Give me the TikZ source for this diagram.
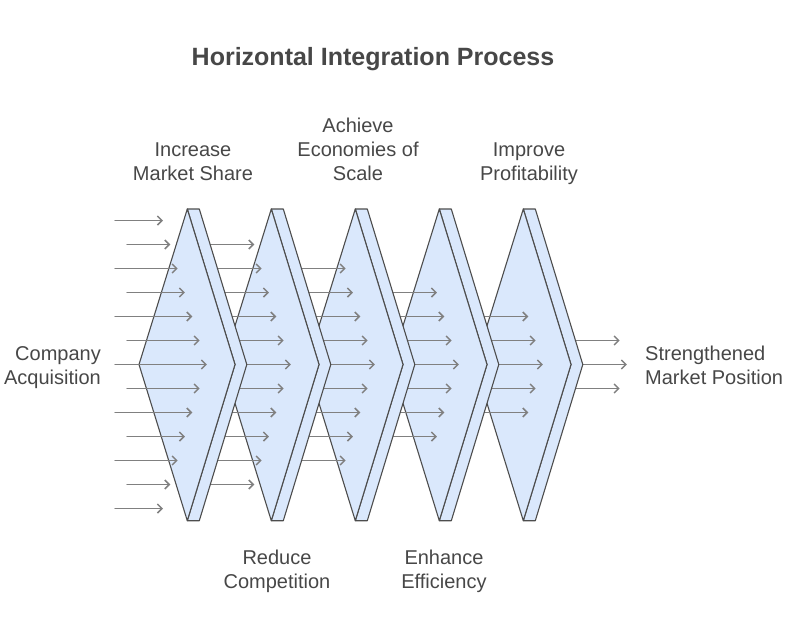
\documentclass[tikz,border=0pt]{standalone}
\usepackage{fontspec}
\setmainfont{Liberation Sans}
\usetikzlibrary{arrows.meta}
\definecolor{stagefill}{HTML}{DAE8FC}
\definecolor{stageline}{HTML}{4D4D4D}
\definecolor{flowgray}{HTML}{808080}
\definecolor{labelgray}{HTML}{474747}
\begin{document}
\begin{tikzpicture}[x=1pt,y=-1pt,line cap=round,line join=round,
  >={Straight Barb[length=4.5pt,width=9pt]},text=labelgray,
  stage/.style={fill=stagefill,draw=stageline,line width=1.1pt},
  flow/.style={draw=flowgray,line width=1.5pt},
  label/.style={inner sep=0pt,font=\fontsize{20}{24}\selectfont}]
  \useasboundingbox (0,0) rectangle (786,616);
  \foreach \k in {5,4,3,2,1,0} {
    \pgfmathsetmacro{\T}{187.3+84*\k}
    \ifnum\k<5
      \filldraw[stage] (\T,209) -- ({\T+12},209) -- ({\T+59.5},364.5) -- ({\T+12},520.7) -- (\T,520.7) -- ({\T+47.7},364.5) -- cycle;
      \filldraw[stage] ({\T-48.3},364.5) -- (\T,209) -- ({\T+47.7},364.5) -- (\T,520.7) -- cycle;
    \fi
    \pgfmathtruncatemacro{\last}{12-\k}
    \foreach \i in {\k,...,\last} {
      \pgfmathsetmacro{\y}{220.5+24*\i}
      \pgfmathsetmacro{\xe}{163+7.33*(6-abs(\i-6))+84*\k}
      \pgfmathsetmacro{\xs}{\k==0 ? (mod(\i,2)==1 ? 127 : 115) : \T-74}
      \draw[flow,->] (\xs,\y) -- (\xe,\y);
    }
  }
  \node[inner sep=0pt,anchor=base,font=\fontsize{25}{30}\selectfont\bfseries] (title) at (373,65) {Horizontal Integration Process};
  \node[label,anchor=base east,align=right] (acq) at (101,384) {Company\\Acquisition};
  \node[label,anchor=base,align=center] (share) at (193,180) {Increase\\Market Share};
  \node[label,anchor=base,align=center] (scale) at (358,180) {Achieve\\Economies of\\Scale};
  \node[label,anchor=base,align=center] (profit) at (529,180) {Improve\\Profitability};
  \node[label,anchor=base,align=center] (compet) at (277,588) {Reduce\\Competition};
  \node[label,anchor=base,align=center] (effic) at (444,588) {Enhance\\Efficiency};
  \node[label,anchor=base west,align=left] (position) at (645,384) {Strengthened\\Market Position};
\end{tikzpicture}
\end{document}
